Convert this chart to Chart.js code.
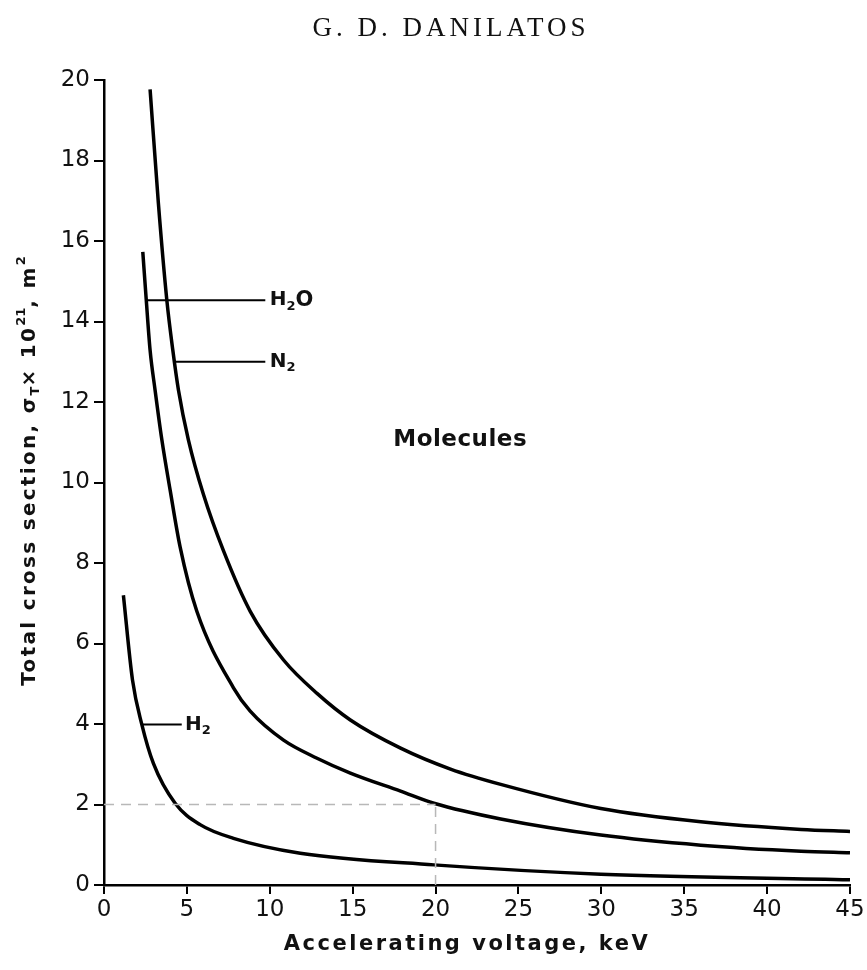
<!DOCTYPE html>
<html>
<head>
<meta charset="utf-8">
<script src="https://cdn.jsdelivr.net/npm/chart.js@4.4.1/dist/chart.umd.min.js"></script>
<style>
  html, body { margin: 0; padding: 0; background: #fff; }
  #wrap { width: 867px; height: 970px; position: relative; }
</style>
</head>
<body>
<div id="wrap"><canvas id="c"></canvas></div>
<script>
// ---- data ----
const xTicks = [0, 5, 10, 15, 20, 25, 30, 35, 40, 45];
const yTicks = [0, 2, 4, 6, 8, 10, 12, 14, 16, 18, 20];

const n2Voltage = [2.78, 3.28, 3.79, 4.15, 4.49, 5.09, 6.0, 7.21, 8.82, 10.83, 12.85, 14.86, 17.89, 20.9, 23.93, 29.97, 36.0, 42.05, 45.0];
const n2Sigma   = [19.77, 16.94, 14.53, 13.29, 12.3, 11.06, 9.7, 8.3, 6.8, 5.59, 4.76, 4.1, 3.4, 2.88, 2.5, 1.9, 1.57, 1.38, 1.33];

const h2oVoltage = [2.34, 2.55, 2.78, 3.08, 3.49, 3.99, 4.59, 5.6, 7.81, 8.82, 10.83, 12.85, 14.86, 17.89, 19.9, 23.93, 29.97, 36.0, 42.05, 45.0];
const h2oSigma   = [15.73, 14.53, 13.29, 12.3, 11.06, 9.81, 8.4, 6.8, 4.9, 4.32, 3.6, 3.15, 2.78, 2.33, 2.03, 1.64, 1.24, 0.99, 0.84, 0.8];

const h2Voltage = [1.17, 1.72, 2.28, 2.98, 4.29, 5.8, 7.81, 11.84, 19.9, 29.97, 45.0];
const h2Sigma   = [7.2, 5.09, 3.99, 3.02, 2.03, 1.5, 1.16, 0.79, 0.5, 0.27, 0.13];

// reference (dashed) guide lines: sigma = 2 up to 20 keV
const guideHX = [0, 20];
const guideHY = [2, 2];
const guideVX = [20, 20];
const guideVY = [0, 1.98];

// label leader lines
const h2oLeaderX = [2.55, 9.73];  const h2oLeaderY = [14.53, 14.53];
const n2LeaderX  = [4.25, 9.73];  const n2LeaderY  = [13.0, 13.0];
const h2LeaderX  = [2.28, 4.69];  const h2LeaderY  = [3.99, 3.99];

const toPts = (xs, ys) => xs.map((x, i) => ({ x: x, y: ys[i] }));

const FONT = "'DejaVu Sans', 'Liberation Sans', sans-serif";

function drawSpaced(ctx, segs, x, y, align) {
  let total = 0;
  const widths = segs.map(s => {
    ctx.font = (s.weight || 'normal') + ' ' + s.size + 'px ' + (s.family || FONT);
    try { ctx.letterSpacing = (s.ls || 0) + 'px'; } catch (e) {}
    const w = ctx.measureText(s.t).width;
    total += w;
    return w;
  });
  let cx = align === 'center' ? x - total / 2 : x;
  segs.forEach((s, i) => {
    ctx.font = (s.weight || 'normal') + ' ' + s.size + 'px ' + (s.family || FONT);
    try { ctx.letterSpacing = (s.ls || 0) + 'px'; } catch (e) {}
    ctx.fillText(s.t, cx, y + (s.dy || 0));
    cx += widths[i];
  });
  try { ctx.letterSpacing = '0px'; } catch (e) {}
}

const textPlugin = {
  id: 'texts',
  afterDraw(chart) {
    const ctx = chart.ctx;
    const xs = chart.scales.x, ys = chart.scales.y;
    ctx.save();
    ctx.fillStyle = '#111';
    ctx.textBaseline = 'middle';
    ctx.textAlign = 'left';

    // header
    drawSpaced(ctx, [{ t: 'G. D. DANILATOS', size: 27, family: "'Liberation Serif', 'DejaVu Serif', serif", ls: 4 }], 451, 29, 'center');

    // x-axis title
    drawSpaced(ctx, [{ t: 'Accelerating voltage, keV', size: 21, weight: 'bold', ls: 2.5 }], 467, 945, 'center');

    // y-axis title (rotated)
    ctx.save();
    ctx.translate(30, 471);
    ctx.rotate(-Math.PI / 2);
    drawSpaced(ctx, [
      { t: 'Total cross section, \u03c3', size: 20, weight: 'bold', ls: 2.3 },
      { t: 'T', size: 13, weight: 'bold', dy: 6 },
      { t: '\u00d7 10', size: 20, weight: 'bold', ls: 2.3 },
      { t: '21', size: 13, weight: 'bold', dy: -8 },
      { t: ', m', size: 20, weight: 'bold', ls: 2.3 },
      { t: '2', size: 13, weight: 'bold', dy: -8 }
    ], 0, 0, 'center');
    ctx.restore();

    // curve labels
    const lx = v => xs.getPixelForValue(v), ly = v => ys.getPixelForValue(v);
    drawSpaced(ctx, [
      { t: 'H', size: 20, weight: 'bold' },
      { t: '2', size: 13, weight: 'bold', dy: 6 },
      { t: 'O', size: 21, weight: 'bold' }
    ], lx(10.0), ly(14.53), 'left');
    drawSpaced(ctx, [
      { t: 'N', size: 20, weight: 'bold' },
      { t: '2', size: 13, weight: 'bold', dy: 6 }
    ], lx(10.0), ly(13.0), 'left');
    drawSpaced(ctx, [
      { t: 'H', size: 20, weight: 'bold' },
      { t: '2', size: 13, weight: 'bold', dy: 6 }
    ], lx(4.88), ly(3.99), 'left');

    drawSpaced(ctx, [{ t: 'Molecules', size: 23, weight: 'bold', ls: 0.5 }], lx(17.45), ly(11.05), 'left');
    ctx.restore();
  }
};

const curveStyle = { borderColor: '#000', borderWidth: 3.5, pointRadius: 0, fill: false, cubicInterpolationMode: 'monotone' };
const leaderStyle = { borderColor: '#000', borderWidth: 2, pointRadius: 0, fill: false, tension: 0 };
const guideStyle = { borderColor: '#b8b8b8', borderWidth: 1.5, borderDash: [10, 7], pointRadius: 0, fill: false, tension: 0 };

new Chart(document.getElementById('c'), {
  type: 'line',
  data: {
    datasets: [
      Object.assign({ label: 'guideH', data: toPts(guideHX, guideHY) }, guideStyle),
      Object.assign({ label: 'guideV', data: toPts(guideVX, guideVY) }, guideStyle),
      Object.assign({ label: 'N2', data: toPts(n2Voltage, n2Sigma) }, curveStyle),
      Object.assign({ label: 'H2O', data: toPts(h2oVoltage, h2oSigma) }, curveStyle),
      Object.assign({ label: 'H2', data: toPts(h2Voltage, h2Sigma) }, curveStyle),
      Object.assign({ label: 'H2O leader', data: toPts(h2oLeaderX, h2oLeaderY) }, leaderStyle),
      Object.assign({ label: 'N2 leader', data: toPts(n2LeaderX, n2LeaderY) }, leaderStyle),
      Object.assign({ label: 'H2 leader', data: toPts(h2LeaderX, h2LeaderY) }, leaderStyle)
    ]
  },
  options: {
    responsive: true,
    maintainAspectRatio: false,
    devicePixelRatio: 1,
    animation: false,
    events: [],
    layout: { padding: { top: 80, right: 17, bottom: 0, left: 0 } },
    plugins: { legend: { display: false }, tooltip: { enabled: false }, title: { display: false } },
    scales: {
      x: {
        type: 'linear', min: 0, max: 45,
        afterBuildTicks: s => { s.ticks = xTicks.map(v => ({ value: v })); },
        afterFit: s => { s.height = 85; },
        ticks: { color: '#111', font: { family: FONT, size: 23 }, padding: 2, maxRotation: 0, autoSkip: false },
        grid: { display: true, drawOnChartArea: false, drawTicks: true, tickLength: 9, color: '#000', lineWidth: 2 },
        border: { display: true, color: '#000', width: 2.5 }
      },
      y: {
        type: 'linear', min: 0, max: 20,
        afterBuildTicks: s => { s.ticks = yTicks.map(v => ({ value: v })); },
        afterFit: s => { s.width = 104; },
        ticks: { color: '#111', font: { family: FONT, size: 23 }, padding: 4, autoSkip: false },
        grid: { display: true, drawOnChartArea: false, drawTicks: true, tickLength: 10, color: '#000', lineWidth: 2 },
        border: { display: true, color: '#000', width: 2.5 }
      }
    }
  },
  plugins: [textPlugin]
});
</script>
</body>
</html>
